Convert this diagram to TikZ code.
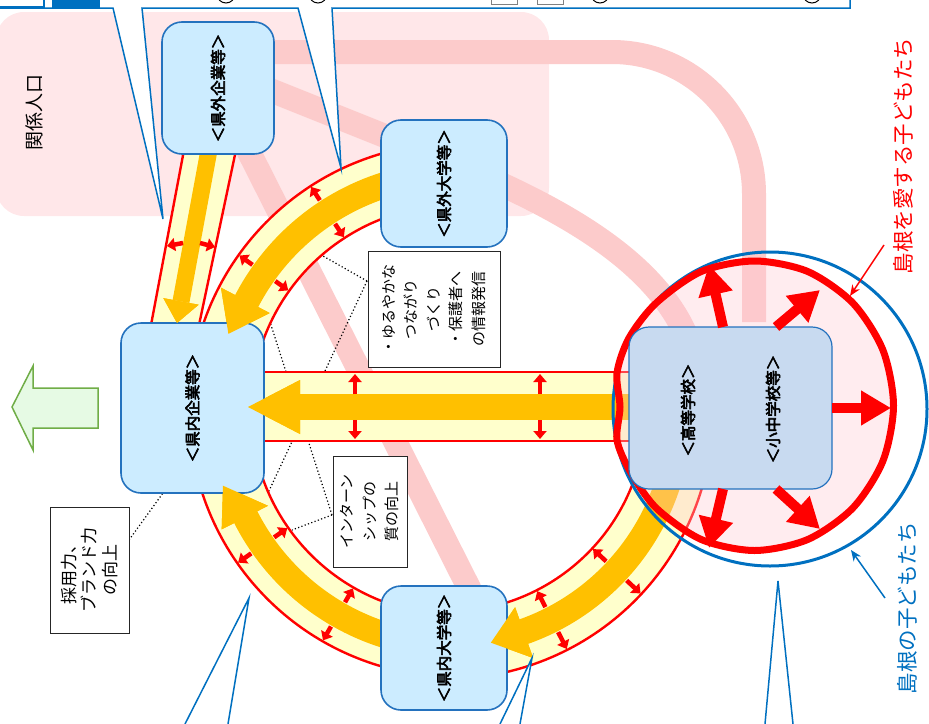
\documentclass[tikz,border=0pt]{standalone}
\usepackage{fontspec}
\newfontfamily\jp{Noto Sans CJK JP}
\newfontfamily\jpb[FakeBold=3.6]{Noto Sans CJK JP}
\usetikzlibrary{arrows.meta}

\definecolor{boxfill}{RGB}{204,236,255}
\definecolor{boxline}{RGB}{36,114,190}
\definecolor{schfill}{RGB}{200,218,240}
\definecolor{bandfill}{RGB}{255,255,204}
\definecolor{bandred}{RGB}{255,0,0}
\definecolor{flow}{RGB}{255,192,0}
\definecolor{linkpink}{RGB}{252,203,203}
\definecolor{areapink}{RGB}{255,231,233}
\definecolor{calloutblue}{RGB}{0,112,192}
\definecolor{greenfill}{RGB}{230,250,228}
\definecolor{greenline}{RGB}{112,173,71}
\definecolor{ringfill}{RGB}{255,200,210}

% ring band between radii #3 and #4 round (#1,#2), angles #5..#6 (y down)
\newcommand\ringband[6]{%
  \fill[bandfill] plot[domain=#5:#6,samples=60] ({#1+#4*cos(\x)},{#2+#4*sin(\x)})
     -- plot[domain=#6:#5,samples=60] ({#1+#3*cos(\x)},{#2+#3*sin(\x)}) -- cycle;
  \draw[bandedge] plot[domain=#5:#6,samples=60] ({#1+#4*cos(\x)},{#2+#4*sin(\x)});
  \draw[bandedge] plot[domain=#5:#6,samples=60] ({#1+#3*cos(\x)},{#2+#3*sin(\x)});}
% curved flow stem
\newcommand\flowstem[6]{%
  \fill[flow] plot[domain=#5:#6,samples=60] ({#1+#4*cos(\x)},{#2+#4*sin(\x)})
     -- plot[domain=#6:#5,samples=60] ({#1+#3*cos(\x)},{#2+#3*sin(\x)}) -- cycle;}
% triangular head of a curved flow arrow
\newcommand\flowhead[7]{\fill[flow] ({#1+#3*cos(#5)},{#2+#3*sin(#5)}) -- ({#1+#6*cos(#7)},{#2+#6*sin(#7)}) -- ({#1+#4*cos(#5)},{#2+#4*sin(#5)}) -- cycle;}
% outline of the inner children ring
\newcommand\kidring{(754.5,261) (807.7,271.5) (852.8,303) (882.9,350) (893.5,405.5) (882.9,461) (852.8,508) (807.7,539.5) (754.5,550.5) (701.3,539.5) (656.2,508) (630,471) (617,440) (620,407) (617,373) (629,338) (656.2,303) (701.3,271.5)}

\begin{document}
\begin{tikzpicture}[x=1pt,y=-1pt,
  gbox/.style={draw=boxline, fill=boxfill, line width=1.6pt, rounded corners=20pt, rotate=90, inner sep=0pt, font=\jpb\fontsize{15.5}{18}\selectfont},
  tbox/.style={draw=black!85, fill=white, line width=1pt, rotate=90, inner sep=0pt, align=center, font=\jp\fontsize{15}{22.5}\selectfont},
  bandedge/.style={draw=bandred, line width=2.4pt},
  link/.style={draw=linkpink, line width=24pt},
  dotline/.style={draw=black, line width=1.2pt, dash pattern=on 1.2pt off 2.3pt},
  minorarrow/.style={draw=bandred, line width=4.5pt, -{Triangle[length=8pt,width=13pt]}},
  bigarrow/.style={draw=bandred, line width=10pt, -{Triangle[length=30pt,width=33pt]}},
  callout/.style={draw=calloutblue, line width=1.5pt, fill=white},
]
\useasboundingbox (0,0) rectangle (929,723);

% related-population area
\fill[areapink, rounded corners=28pt] (-4,12) rectangle (549,216);
\node[rotate=90, font=\jp\fontsize{19}{22}\selectfont] (kankei) at (34,112) {関係人口};

% pale pink links
\draw[link] (225,52) -- (612,52) .. controls (690.4,52) and (754,115.6) .. (754,194) -- (754,322);
\draw[link] (240,78) -- (440,158) .. controls (560,206) and (660,262) .. (690,345);
\draw[link] (248,150) -- (470,590);

% dotted leaders
\draw[dotline] (367,281) -- (323,256);
\draw[dotline] (367,281) -- (268,493);
\draw[dotline] (332,515) -- (270,322);
\draw[dotline] (332,515) -- (292,530);
\draw[dotline] (129,540) -- (163,493);

% straight band
\fill[bandfill] (184,150) -- (236,150) -- (199,325) -- (151,325) -- cycle;
\draw[bandedge] (184,150) -- (151,325);
\draw[bandedge] (236,150) -- (199,325);
% middle band
\fill[bandfill] (255,372) rectangle (640,441);
\draw[bandedge] (255,372) -- (640,372);
\draw[bandedge] (255,441) -- (640,441);
% ring bands
\ringband{456}{410}{205}{267}{195}{262}
\ringband{456}{410}{205}{267}{98}{165}
\ringband{446}{412}{200}{267}{6}{84}

% orange flows
\draw[flow, line width=17pt] (209,150) -- (181,301.4);
\fill[flow] (198.7,304.7) -- (177,323) -- (163.3,298.1) -- cycle;
\fill[flow] (300,394) rectangle (640,420);
\fill[flow] (300,380) -- (248,407) -- (300,434) -- cycle;
\flowstem{456}{410}{223}{249}{207}{262}
\flowhead{456}{410}{210}{265}{207.5}{240}{198.5}
\flowstem{456}{410}{223}{249}{98}{153.5}
\flowhead{456}{410}{211}{263}{153}{245}{162}
\flowstem{446}{412}{220}{246}{6}{71}
\flowhead{446}{412}{207}{261}{70.5}{235}{79}

% small two-way arrows
\draw[minorarrow] (183,243) -- (167,246);
\draw[minorarrow] (200,243) -- (215,247);
\foreach \p in {355,540} {
  \draw[minorarrow] (\p,394) -- (\p,374);
  \draw[minorarrow] (\p,420) -- (\p,439);
}
\foreach \a in {215.5,237,120,145} {
  \draw[minorarrow] ({456+250*cos(\a)},{410+250*sin(\a)}) -- ({456+266*cos(\a)},{410+266*sin(\a)});
  \draw[minorarrow] ({456+222*cos(\a)},{410+222*sin(\a)}) -- ({456+206*cos(\a)},{410+206*sin(\a)});
}
\foreach \a in {43,63} {
  \draw[minorarrow] ({446+247*cos(\a)},{412+247*sin(\a)}) -- ({446+266*cos(\a)},{412+266*sin(\a)});
  \draw[minorarrow] ({446+219*cos(\a)},{412+219*sin(\a)}) -- ({446+201*cos(\a)},{412+201*sin(\a)});
}

% children rings
\fill[ringfill, fill opacity=0.35] plot[smooth cycle] coordinates {\kidring};
\draw[calloutblue, line width=3pt] (770,409) circle[radius=157];
\draw[bandred, line width=7pt] plot[smooth cycle] coordinates {\kidring};

% organisations
\node[gbox, minimum width=132pt, minimum height=112pt] (gk) at (218,88) {＜県外企業等＞};
\node[gbox, minimum width=127pt, minimum height=126pt] (gd) at (444,183.5) {＜県外大学等＞};
\node[gbox, minimum width=170pt, minimum height=143pt] (nk) at (192.5,408) {＜県内企業等＞};
\node[gbox, minimum width=124pt, minimum height=126pt] (nd) at (444,648) {＜県内大学等＞};
\node[gbox, fill=schfill, line width=1.2pt, minimum width=162pt, minimum height=203pt] (sch) at (730.5,408) {};
\node[rotate=90, font=\jpb\fontsize{15.5}{18}\selectfont] (hs) at (688,410) {＜高等学校＞};
\node[rotate=90, font=\jpb\fontsize{15.5}{18}\selectfont] (es) at (773,409) {＜小中学校等＞};

% flow heads over the boxes
\fill[flow] (198.7,304.7) -- (177,323) -- (163.3,298.1) -- cycle;
\fill[flow] (300,380) -- (248,407) -- (300,434) -- cycle;
\flowhead{456}{410}{210}{265}{207.5}{240}{198.5}
\flowhead{456}{410}{211}{263}{153}{245}{162}
\flowhead{446}{412}{207}{261}{70.5}{235}{79}

% arrows out of the schools
\draw[bigarrow] (723,327) -- (709,265);
\draw[bigarrow] (776,327) -- (820,290);
\draw[bigarrow] (832,408) -- (891,408);
\draw[bigarrow] (723,489) -- (709,548);
\draw[bigarrow] (776,489) -- (820,529);

% notes
\node[tbox, minimum width=116pt, minimum height=132pt] (yuru) at (434,309) {・ゆるやかな\\つながり\\づくり\\・保護者へ\\の情報発信};
\node[tbox, minimum width=111pt, minimum height=74pt] (intern) at (370,511.5) {インターン\\シップの\\質の向上};
\node[tbox, minimum width=126pt, minimum height=79pt, font=\jp\fontsize{17}{20.5}\selectfont] (saiyo) at (89.5,570) {採用力、\\ブランド力\\の向上};

% outflow arrow
\draw[greenline, fill=greenfill, line width=1.5pt] (12,407) -- (33,366) -- (33,388) -- (98,388) -- (98,428) -- (33,428) -- (33,450) -- cycle;

% ring labels
\node[rotate=90, text=bandred, font=\jp\fontsize{21.5}{24}\selectfont] (love) at (903,156) {島根を愛する子どもたち};
\node[rotate=90, text=calloutblue, font=\jp\fontsize{21.5}{24}\selectfont] (kids) at (907,608) {島根の子どもたち};
\coordinate (redring) at (850,296);
\coordinate (bluering) at (851,550);
\draw[bandred, line width=1.5pt, -{Stealth[length=11pt,width=9pt]}] (884,245) -- (redring);
\draw[calloutblue, line width=1.5pt, -{Stealth[length=11pt,width=9pt]}] (885,598) -- (bluering);

% callouts from above and below
\draw[callout] (-10,8) -- (113,8) -- (163,219) -- (142,8) -- (298,8) -- (341,168) -- (332,8) -- (850,8) -- (850,-20) -- (-10,-20) -- cycle;
\draw[calloutblue, line width=1.2pt, fill=white] (-5,-10) rectangle (44,7);
\fill[calloutblue] (52,-5) rectangle (100,8);
\foreach \c in {226,318,600,812} \draw[black, line width=1pt] (\c,-6) circle[radius=9];
\draw[gray, line width=1pt] (491,-5) rectangle (517,4);
\draw[gray, line width=1pt] (537,-5) rectangle (563,4);
\draw[callout] (185,724) -- (249,598) -- (228,724);
\draw[callout] (500,724) -- (532,658) -- (520,724);
\draw[callout] (765,724) -- (778,581) -- (793,724);
\end{tikzpicture}
\end{document}
